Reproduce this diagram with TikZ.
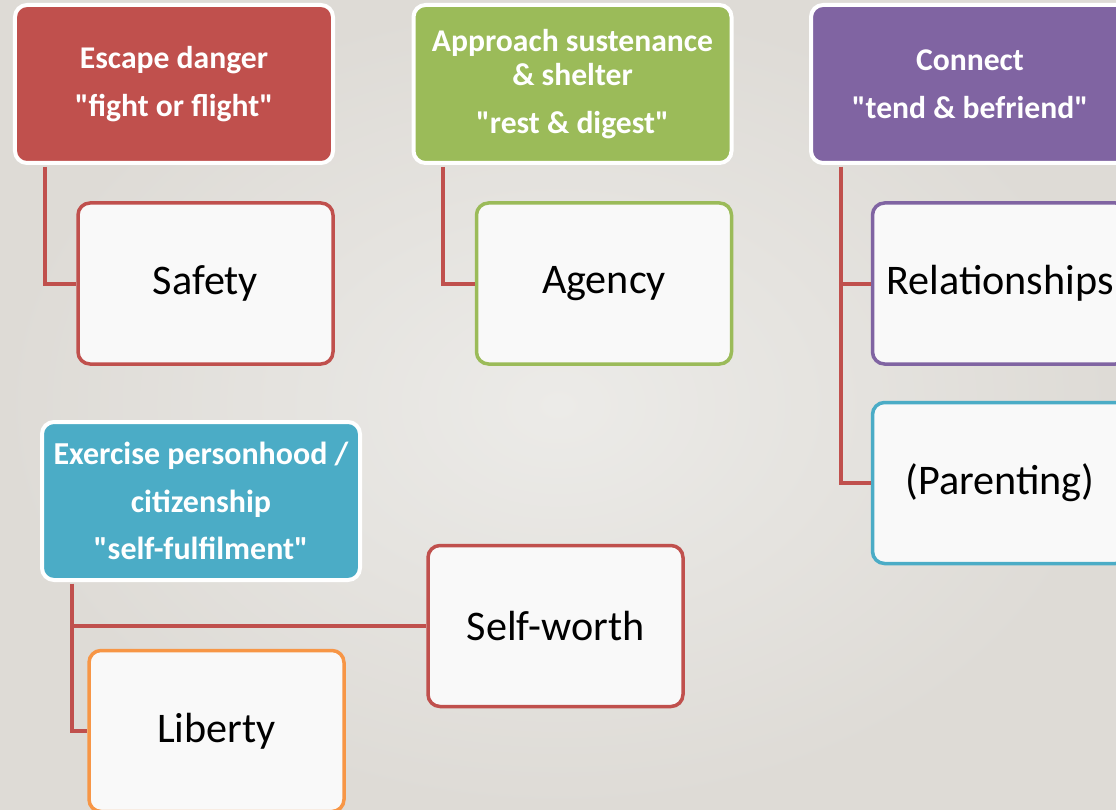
\documentclass[tikz,border=0pt]{standalone}
\usepackage{fontspec}
\setmainfont{Carlito}[Ligatures=TeXOff]
\usepackage{tikz}
\usetikzlibrary{positioning}

\definecolor{dangerred}{HTML}{C0504D}
\definecolor{restgreen}{HTML}{9BBB59}
\definecolor{tendpurple}{HTML}{8064A2}
\definecolor{selfcyan}{HTML}{4BACC6}
\definecolor{libertyorange}{HTML}{F79646}
\definecolor{boxwhite}{HTML}{F9F9F9}
\definecolor{bgin}{HTML}{ECEBE8}
\definecolor{bgout}{HTML}{DEDBD6}

\begin{document}
\begin{tikzpicture}[
		drive/.style={rectangle, rounded corners=0.24cm, draw=white, line width=0.08cm,
			minimum width=6.36cm, minimum height=3.16cm, align=center, text=white,
			font=\fontsize{18}{19.2}\selectfont\bfseries},
		need/.style={rectangle, rounded corners=0.24cm, fill=boxwhite, line width=0.07cm,
			minimum width=5.1cm, minimum height=3.22cm, font=\fontsize{24}{28}\selectfont},
		link/.style={draw=dangerred, line width=0.08cm, shorten <=1pt}]
		
		% Hintergrund
		\shade[inner color=bgin, outer color=bgout] (0,0) rectangle (22.32,-16.2);
		\useasboundingbox (0,0) rectangle (22.32,-16.2);
		
		% Antriebe
		\node[drive, fill=dangerred] (escape) at (3.48, -1.68) {Escape danger\\[8.3pt]"fight or flight"};
		\node[drive, fill=restgreen] (approach) at (11.45, -1.68) {Approach sustenance\\\& shelter\\[8.3pt]"rest \& digest"};
		\node[drive, fill=tendpurple] (connect) at (19.40, -1.68) {Connect\\[8.3pt]"tend \& befriend"};
		\node[drive, fill=selfcyan, font=\fontsize{18.2}{27.2}\selectfont\bfseries] (exercise) at (4.02, -10.02)
			{Exercise personhood\ {/}\\[0pt]{citizenship}\\[0pt]"self-fulfilment"};
		
		% Bedürfnisse
		\node[need, draw=dangerred] (safety) at (4.11, -5.67) {Safety};
		\node[need, draw=restgreen] (agency) at (12.08, -5.67) {Agency};
		\node[need, draw=tendpurple] (relations) at (20.0, -5.67) {Relationships};
		\node[need, draw=selfcyan] (parenting) at (20.0, -9.66) {(Parenting)};
		\node[need, draw=dangerred] (selfworth) at (11.11, -12.52) {Self-worth};
		\node[need, draw=libertyorange] (liberty) at (4.33, -14.62) {Liberty};
		
		% Verbindungen
		\draw[link] ([xshift=0.64cm]escape.south west) |- (safety.west);
		\draw[link] ([xshift=0.62cm]approach.south west) |- (agency.west);
		\draw[link] ([xshift=0.64cm]connect.south west) |- (relations.west);
		\draw[link] ([xshift=0.64cm]connect.south west) |- (parenting.west);
		\draw[link] ([xshift=0.64cm]exercise.south west) |- (selfworth.west);
		\draw[link] ([xshift=0.64cm]exercise.south west) |- (liberty.west);
	\end{tikzpicture}
\end{document}
